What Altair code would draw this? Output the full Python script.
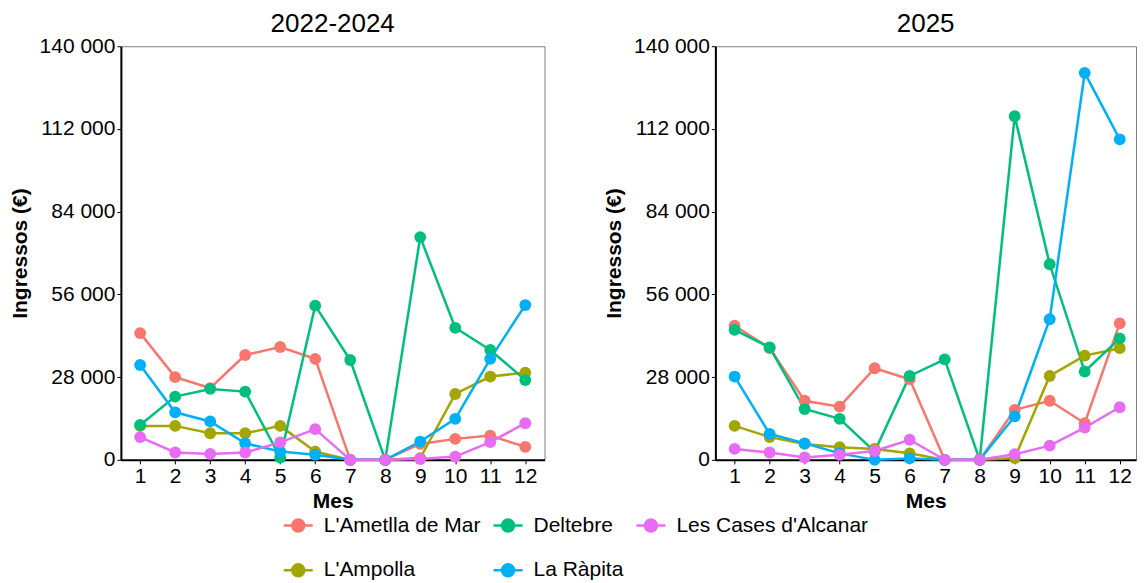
import altair as alt
import pandas as pd

months = list(range(1, 13))
draw_order = ["L'Ametlla de Mar", "L'Ampolla", "Deltebre", "La Ràpita", "Les Cases d'Alcanar"]
legend_order = ["L'Ametlla de Mar", "Deltebre", "Les Cases d'Alcanar", "L'Ampolla", "La Ràpita"]
legend_colors = ["#F8766D", "#00BF7D", "#E76BF3", "#A3A500", "#00B0F6"]
y_ticks = [0, 28000, 56000, 84000, 112000, 140000]
panel_titles = ["2022-2024", "2025"]

# 2022-2024
p1_ametlla = [42900, 28000, 24300, 35500, 38200, 34200, 0, 0, 5400, 7100, 8200, 4400]
p1_ampolla = [11500, 11500, 9000, 9000, 11500, 2800, 0, 0, 600, 22300, 28200, 29500]
p1_deltebre = [11800, 21400, 24000, 23100, 800, 52200, 33800, 0, 75400, 44700, 37200, 27000]
p1_rapita = [32100, 16100, 13000, 5600, 2800, 1700, 0, 0, 6200, 13900, 34200, 52400]
p1_cases = [7700, 2500, 2000, 2500, 5900, 10400, 0, 0, 300, 1100, 6000, 12400]

# 2025
p2_ametlla = [45400, 37800, 20000, 18000, 31000, 27300, 0, 0, 16900, 20000, 12400, 46200]
p2_ampolla = [11500, 7700, 5400, 4300, 3700, 2200, 0, 0, 600, 28400, 35300, 37800]
p2_deltebre = [44000, 38100, 17200, 13900, 2800, 28400, 34000, 0, 116300, 66200, 29900, 41100]
p2_rapita = [28200, 8800, 5600, 2200, 0, 500, 0, 0, 14700, 47600, 131000, 108500]
p2_cases = [3700, 2500, 800, 1700, 3000, 6800, 0, 0, 1900, 4800, 10900, 17800]


def make_df(vals):
    rows = []
    for name, v in zip(draw_order, vals):
        for m, val in zip(months, v):
            rows.append({"Municipi": name, "Mes": m, "Ingressos": val})
    return pd.DataFrame(rows)


df1 = make_df([p1_ametlla, p1_ampolla, p1_deltebre, p1_rapita, p1_cases])
df2 = make_df([p2_ametlla, p2_ampolla, p2_deltebre, p2_rapita, p2_cases])

color_scale = alt.Scale(domain=legend_order, range=legend_colors)


def panel(df, title, width, x_max):
    base = alt.Chart(df).encode(
        x=alt.X("Mes:Q",
                scale=alt.Scale(domain=[0.45, x_max], nice=False, zero=False),
                axis=alt.Axis(values=months, format="d", title="Mes")),
        y=alt.Y("Ingressos:Q",
                scale=alt.Scale(domain=[0, 140000], nice=False),
                axis=alt.Axis(values=y_ticks, title="Ingressos (€)",
                              labelExpr="replace(format(datum.value, ','), ',', ' ')")),
        color=alt.Color("Municipi:N", scale=color_scale, sort=legend_order,
                        legend=alt.Legend(title=None)),
    )
    lines = base.mark_line(strokeWidth=2.5)
    points = base.mark_circle(size=140, opacity=1)
    return alt.layer(lines, points).properties(width=width, height=414, title=title)


legend_symbol = "M-1.45,0H1.45M-0.6,0A0.6,0.6,0,1,1,0.6,0A0.6,0.6,0,1,1,-0.6,0Z"

chart = alt.hconcat(
    panel(df1, panel_titles[0], 424, 12.55),
    panel(df2, panel_titles[1], 421, 12.465),
    spacing=57,
).properties(
    padding={"left": 0, "top": 2, "right": 0, "bottom": 0}
).configure_view(
    stroke="#7f7f7f", strokeWidth=1
).configure_axis(
    domainColor="black", domainWidth=2, tickColor="black", tickSize=4, tickWidth=1,
    labelColor="black", labelFontSize=21, labelFont="Liberation Sans", labelPadding=2,
    titleColor="black", titleFontSize=21, titleFont="Liberation Sans", titleFontWeight="bold",
    grid=False
).configure_axisY(titlePadding=9).configure_axisX(titlePadding=4).configure_title(
    fontSize=26, font="Liberation Sans", fontWeight="normal", color="black", anchor="middle", offset=-2
).configure_legend(
    orient="none", legendX=166, legendY=468, direction="horizontal", columns=3,
    symbolType=legend_symbol, symbolSize=400, symbolStrokeWidth=2.5,
    labelFontSize=21, labelFont="Liberation Sans", labelColor="black", labelLimit=400,
    rowPadding=22, columnPadding=8, labelOffset=14
)

chart.save("out.html", embed_options={"renderer": "svg", "actions": False})
